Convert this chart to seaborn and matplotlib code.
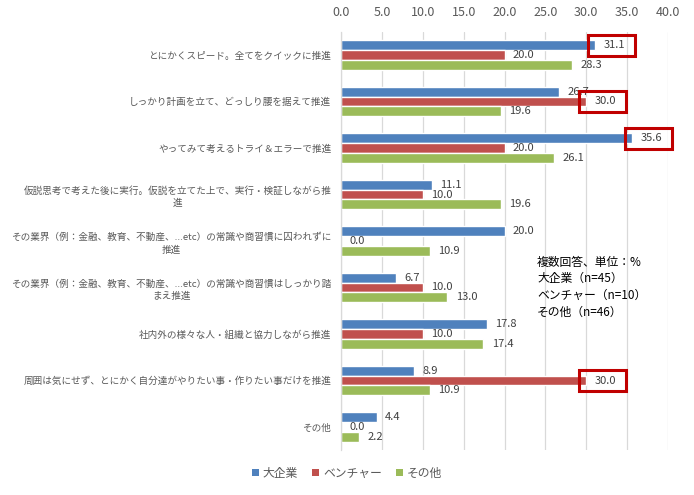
import matplotlib
matplotlib.use("Agg")
import matplotlib.pyplot as plt
import seaborn as sns
import pandas as pd
from matplotlib.patches import Rectangle, Patch

categories = [
    "とにかくスピード。全てをクイックに推進",
    "しっかり計画を立て、どっしり腰を据えて推進",
    "やってみて考えるトライ＆エラーで推進",
    "仮説思考で考えた後に実行。仮説を立てた上で、実行・検証しながら推\n進",
    "その業界（例：金融、教育、不動産、...etc）の常識や商習慣に囚われずに\n推進",
    "その業界（例：金融、教育、不動産、...etc）の常識や商習慣はしっかり踏\nまえ推進",
    "社内外の様々な人・組織と協力しながら推進",
    "周囲は気にせず、とにかく自分達がやりたい事・作りたい事だけを推進",
    "その他",
]
series = ["大企業", "ベンチャー", "その他"]
large = [31.1, 26.7, 35.6, 11.1, 20.0, 6.7, 17.8, 8.9, 4.4]
venture = [20.0, 30.0, 20.0, 10.0, 0.0, 10.0, 10.0, 30.0, 0.0]
other = [28.3, 19.6, 26.1, 19.6, 10.9, 13.0, 17.4, 10.9, 2.2]
xticks = [0, 5, 10, 15, 20, 25, 30, 35, 40]
highlights = [(0, 0), (1, 1), (0, 2), (1, 7)]  # (series index, category index)
note_lines = ["複数回答、単位：%", "大企業（n=45）", "ベンチャー（n=10）", "その他（n=46）"]

colors = ["#4F81BD", "#C0504D", "#9BBB59"]

rows = []
for s, vals in zip(series, [large, venture, other]):
    for c, v in zip(categories, vals):
        rows.append({"category": c, "series": s, "value": v})
df = pd.DataFrame(rows)

sns.set_theme(style="white")
plt.rcParams["font.family"] = ["Noto Sans CJK JP", "DejaVu Sans"]

W, H = 694, 495
fig = plt.figure(figsize=(W / 100, H / 100), dpi=100)
left, right, top, bottom = 341 / W, 668 / W, 1 - 31.75 / H, 1 - 450.25 / H
ax = fig.add_axes([left, bottom, right - left, top - bottom])

sns.barplot(data=df, y="category", x="value", hue="series", order=categories,
            hue_order=series, palette=colors, orient="h", width=0.63,
            saturation=1, ax=ax, legend=False, errorbar=None)

ax.set_xlim(0, 40)
ax.set_xticks(xticks)
ax.set_xticklabels([f"{t:.1f}" for t in xticks])
ax.xaxis.tick_top()
ax.tick_params(axis="x", length=0, pad=9, labelsize=9, colors="#595959")
ax.tick_params(axis="y", length=0, pad=7, labelsize=6.9, colors="#595959")
for lbl in ax.get_yticklabels():
    lbl.set_multialignment("center")
    lbl.set_linespacing(1.45)
ax.set_xlabel("")
ax.set_ylabel("")
ax.grid(axis="x", color="#D9D9D9", linewidth=0.9)
ax.grid(axis="y", visible=False)
ax.set_axisbelow(True)
for sp in ["top", "right", "bottom"]:
    ax.spines[sp].set_visible(False)
ax.spines["left"].set_color("#D9D9D9")
ax.spines["left"].set_linewidth(0.9)

for cont in ax.containers:
    ax.bar_label(cont, fmt="%.1f", padding=6, fontsize=8, color="#404040")

# red highlight boxes
axw_px = (right - left) * W
axh_px = (top - bottom) * H
ylo, yhi = ax.get_ylim()
px_x = 40 / axw_px
px_y = abs(yhi - ylo) / axh_px
for si, ci in highlights:
    p = ax.containers[si].patches[ci]
    xe = p.get_width()
    yc = p.get_y() + p.get_height() / 2
    rect = Rectangle((xe - 7 * px_x, yc - 10.5 * px_y), 47 * px_x, 21 * px_y,
                     fill=False, edgecolor="#C00000", linewidth=2.2, clip_on=False, zorder=5)
    ax.add_patch(rect)

# note
for i, line in enumerate(note_lines):
    fig.text(537 / W, 1 - (262 + 16.8 * i) / H, line, fontsize=8.5, color="black",
             ha="left", va="center")

handles = [Patch(facecolor=c, edgecolor="none") for c in colors]
fig.legend(handles, series, loc="center", bbox_to_anchor=(347 / W, 1 - 473 / H), ncol=3,
           frameon=False, fontsize=8.5, handlelength=0.6, handleheight=0.6,
           handletextpad=0.3, columnspacing=1.2, labelcolor="#595959")

fig.savefig("out.png", dpi=100)
